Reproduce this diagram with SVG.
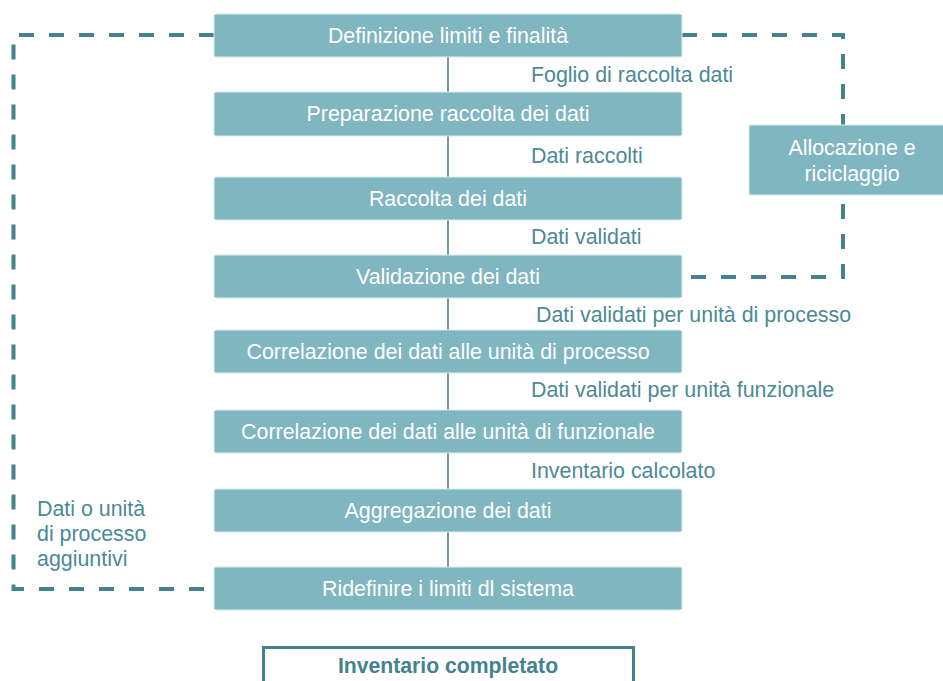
<svg xmlns="http://www.w3.org/2000/svg" width="943" height="681" viewBox="0 0 943 681">
<style>
.box{fill:#7fb6bf;stroke:#d9ecef;stroke-width:1}
.bt{font-family:"Liberation Sans",Arial,sans-serif;font-size:21.4px;fill:#ffffff;text-anchor:middle}
.lbl{font-family:"Liberation Sans",Arial,sans-serif;font-size:21.4px;fill:#4b8a95}
.link{stroke:#44838d;stroke-width:1.6;fill:none}
.dash{stroke:#44838d;stroke-width:4;fill:none;stroke-dasharray:15 15}
</style>
<rect width="943" height="681" fill="#ffffff"/>
<g id="connectors">
<line class="link" x1="448" y1="57" x2="448" y2="92"/>
<line class="link" x1="448" y1="136" x2="448" y2="177"/>
<line class="link" x1="448" y1="220" x2="448" y2="255"/>
<line class="link" x1="448" y1="298" x2="448" y2="330"/>
<line class="link" x1="448" y1="373" x2="448" y2="410"/>
<line class="link" x1="448" y1="453" x2="448" y2="489"/>
<line class="link" x1="448" y1="532" x2="448" y2="567"/>
<path class="dash" d="M214,35 H13.5 V589 H214"/>
<path class="dash" d="M682,35 H843 V277 H682"/>
<text class="lbl" x="531" y="82">Foglio di raccolta dati</text>
<text class="lbl" x="531" y="163">Dati raccolti</text>
<text class="lbl" x="531" y="244">Dati validati</text>
<text class="lbl" x="536" y="322">Dati validati per unità di processo</text>
<text class="lbl" x="531" y="397">Dati validati per unità funzionale</text>
<text class="lbl" x="531" y="478">Inventario calcolato</text>
<text class="lbl" x="37" y="516">Dati o unità</text>
<text class="lbl" x="37" y="541">di processo</text>
<text class="lbl" x="37" y="566">aggiuntivi</text>
</g>
<g id="n1"><rect class="box" x="214" y="14" width="468" height="43" rx="2"/><text class="bt" x="448" y="43">Definizione limiti e finalità</text></g>
<g id="n2"><rect class="box" x="214" y="92" width="468" height="44" rx="2"/><text class="bt" x="448" y="121">Preparazione raccolta dei dati</text></g>
<g id="n3"><rect class="box" x="214" y="177" width="468" height="43" rx="2"/><text class="bt" x="448" y="206">Raccolta dei dati</text></g>
<g id="n4"><rect class="box" x="214" y="255" width="468" height="43" rx="2"/><text class="bt" x="448" y="284">Validazione dei dati</text></g>
<g id="n5"><rect class="box" x="214" y="330" width="468" height="43" rx="2"/><text class="bt" x="448" y="359">Correlazione dei dati alle unità di processo</text></g>
<g id="n6"><rect class="box" x="214" y="410" width="468" height="43" rx="2"/><text class="bt" x="448" y="439">Correlazione dei dati alle unità di funzionale</text></g>
<g id="n7"><rect class="box" x="214" y="489" width="468" height="43" rx="2"/><text class="bt" x="448" y="518">Aggregazione dei dati</text></g>
<g id="n8"><rect class="box" x="214" y="567" width="468" height="43" rx="2"/><text class="bt" x="448" y="596">Ridefinire i limiti dl sistema</text></g>
<g id="n9"><rect class="box" x="749" y="125" width="200" height="70" rx="2"/><text class="bt" x="852" y="155">Allocazione e</text><text class="bt" x="852" y="181">riciclaggio</text></g>
<g id="n10"><rect x="263.5" y="647.5" width="370" height="50" fill="#ffffff" stroke="#44838d" stroke-width="3"/><text x="448" y="673" font-family="'Liberation Sans',Arial,sans-serif" font-size="21.2" font-weight="bold" fill="#44838d" text-anchor="middle">Inventario completato</text></g>
</svg>
